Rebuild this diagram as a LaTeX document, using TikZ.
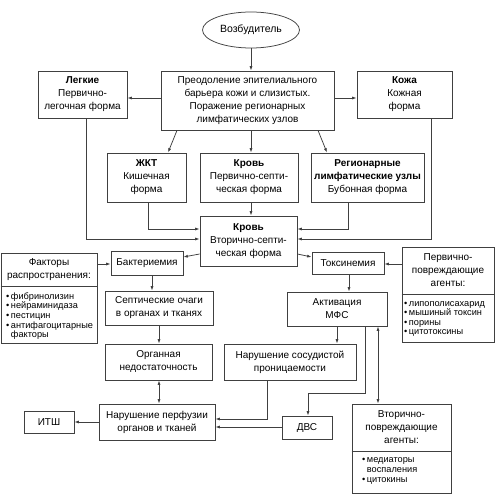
\documentclass[tikz,border=0pt]{standalone}
\usepackage{fontspec}
\setmainfont{Liberation Sans}
\usetikzlibrary{arrows.meta,shapes.geometric}
\begin{document}
\begin{tikzpicture}[x=1pt,y=-1pt,
 box/.style={draw=black!75, line width=0.75pt, inner sep=0pt, align=center, font=\fontsize{10}{13}\selectfont},
 arr/.style={draw=black!75, line width=0.75pt, -{Latex[length=4.5pt,width=3pt]}},
 darr/.style={draw=black!75, line width=0.75pt, {Latex[length=4.5pt,width=3pt]}-{Latex[length=4.5pt,width=3pt]}},
 ln/.style={draw=black!75, line width=0.75pt},
 lst/.style={inner sep=0pt, align=left, font=\fontsize{9.2}{9.6}\selectfont, anchor=west},
 hd/.style={inner sep=0pt, align=center, font=\fontsize{10}{13}\selectfont}
]
\useasboundingbox[fill=white] (0,0) rectangle (496,500);

% nodes
\node[box, ellipse, minimum width=97pt, minimum height=36pt, font=\fontsize{10.5}{13}\selectfont] (ex) at (251,30) {Возбудитель};
\node[box, minimum width=173pt, minimum height=59pt] (center) at (247.5,100.5) {Преодоление эпителиального\\барьера кожи и слизистых.\\Поражение регионарных\\лимфатических узлов};
\node[box, minimum width=89pt, minimum height=47pt] (legk) at (82.5,94.5) {{\bfseries Легкие}\\Первично-\\легочная форма};
\node[box, minimum width=95pt, minimum height=47pt] (kozha) at (404.5,94.5) {{\bfseries Кожа}\\Кожная\\форма};
\node[box, minimum width=79pt, minimum height=49pt] (zhkt) at (146.5,177.5) {{\bfseries ЖКТ}\\Кишечная\\форма};
\node[box, minimum width=98pt, minimum height=49pt] (krov1) at (249,177.5) {{\bfseries Кровь}\\Первично-септи-\\ческая форма};
\node[box, minimum width=113pt, minimum height=49pt] (reg) at (367.5,177.5) {{\bfseries Регионарные}\\{\bfseries лимфатические узлы}\\Бубонная форма};
\node[box, minimum width=97pt, minimum height=50pt] (krov2) at (248.5,241) {{\bfseries Кровь}\\Вторично-септи-\\ческая форма};
\node[box, minimum width=96pt, minimum height=90pt] (fakt) at (49,298) {};
\node[box, minimum width=72pt, minimum height=24pt] (bakt) at (147,263) {Бактериемия};
\node[box, minimum width=72pt, minimum height=22pt] (toks) at (348,263) {Токсинемия};
\node[box, minimum width=92pt, minimum height=95pt] (perv) at (448,294.5) {};
\node[box, minimum width=108pt, minimum height=34pt] (sept) at (159,308) {Септические очаги\\в органах и тканях};
\node[box, minimum width=100pt, minimum height=34pt] (aktiv) at (337,309) {Активация\\МФС};
\node[box, minimum width=107pt, minimum height=36pt] (organ) at (158.5,362) {Органная\\недостаточность};
\node[box, minimum width=132pt, minimum height=36pt] (sosud) at (290,362) {Нарушение сосудистой\\проницаемости};
\node[box, minimum width=50pt, minimum height=22pt] (itsh) at (49,422) {ИТШ};
\node[box, minimum width=116pt, minimum height=36pt] (perf) at (157,422) {Нарушение перфузии\\органов и тканей};
\node[box, minimum width=50pt, minimum height=23pt] (dvs) at (307,427.5) {ДВС};
\node[box, minimum width=99pt, minimum height=89pt] (vtor) at (401.5,448.5) {};

% compound box contents
\node[hd] (fakth) at (49,269.5) {Факторы\\распространения:};
\node[lst] (faktl) at (6,316) {•\,фибринолизин\\•\,нейраминидаза\\•\,пестицин\\•\,антифагоцитарные\\\hphantom{•\,}факторы};
\node[hd] (pervh) at (448,270.5) {Первично-\\повреждающие\\агенты:};
\node[lst] (pervl) at (404,319) {•\,липополисахарид\\•\,мышиный токсин\\•\,порины\\•\,цитотоксины};
\node[hd] (vtorh) at (401.5,427.5) {Вторично-\\повреждающие\\агенты:};
\node[lst] (vtorl) at (362,471) {•\,медиаторы\\\hphantom{•\,}воспаления\\•\,цитокины};

% helper coordinates
\coordinate (y98) at (0,98);
\coordinate (y229) at (0,229);
\coordinate (y239) at (0,239);
\coordinate (y254) at (0,254);
\coordinate (y257) at (0,257);
\coordinate (y264) at (0,264);
\coordinate (y286) at (0,286);
\coordinate (y294) at (0,294);
\coordinate (y451) at (0,451);
\coordinate (y393) at (0,393);
\coordinate (y419) at (0,419);
\coordinate (y422) at (0,422);
\coordinate (y427) at (0,427);
\coordinate (x86) at (86,0);
\coordinate (x148) at (148,0);
\coordinate (x152) at (152,0);
\coordinate (x159) at (159,0);
\coordinate (x168) at (168,0);
\coordinate (x177) at (177,0);
\coordinate (x251) at (251,0);
\coordinate (x267) at (267,0);
\coordinate (x308) at (308,0);
\coordinate (x318) at (318,0);
\coordinate (x327) at (327,0);
\coordinate (x337) at (337,0);
\coordinate (x348) at (348,0);
\coordinate (x349) at (349,0);
\coordinate (x365) at (365,0);
\coordinate (x378) at (378,0);
\coordinate (x431) at (431,0);

% dividers
\draw[ln] (fakt.west |- y286) -- (fakt.east |- y286);
\draw[ln] (perv.west |- y294) -- (perv.east |- y294);
\draw[ln] (vtor.west |- y451) -- (vtor.east |- y451);

% connectors
\draw[arr] (ex.south) -- (ex.south |- center.north);
\draw[arr] (center.west |- y98) -- (legk.east |- y98);
\draw[arr] (center.east |- y98) -- (kozha.west |- y98);
\draw[arr] (center.south -| x177) -- (zhkt.north -| x168);
\draw[arr] (center.south -| x251) -- (krov1.north -| x251);
\draw[arr] (center.south -| x318) -- (reg.north -| x327);
\draw[arr] (krov1.south -| x251) -- (krov2.north -| x251);
\draw[arr] (zhkt.south -| x148) |- (krov2.west |- y229);
\draw[arr] (reg.south -| x348) |- (krov2.east |- y229);
\draw[arr] (legk.south -| x86) |- (krov2.west |- y239);
\draw[arr] (kozha.south -| x431) |- (krov2.east |- y239);
\draw[arr] (krov2.west |- y254) -- (bakt.east |- y257);
\draw[arr] (krov2.east |- y254) -- (toks.west |- y257);
\draw[arr] (fakt.east |- y264) -- (bakt.west |- y264);
\draw[arr] (perv.west |- y264) -- (toks.east |- y264);
\draw[arr] (bakt.south -| x152) -- (sept.north -| x152);
\draw[arr] (sept.south -| x159) -- (organ.north -| x159);
\draw[darr] (organ.south -| x159) -- (perf.north -| x159);
\draw[arr] (toks.south -| x349) -- (aktiv.north -| x349);
\draw[arr] (aktiv.south -| x337) -- (sosud.north -| x337);
\draw[arr] (aktiv.south -| x365) |- (y393 -| x308) -- (dvs.north -| x308);
\draw[darr] (aktiv.south -| x378) -- (vtor.north -| x378);
\draw[arr] (sosud.south -| x267) |- (perf.east |- y419);
\draw[arr] (dvs.west |- y427) -- (perf.east |- y427);
\draw[arr] (perf.west |- y422) -- (itsh.east |- y422);
\end{tikzpicture}
\end{document}
